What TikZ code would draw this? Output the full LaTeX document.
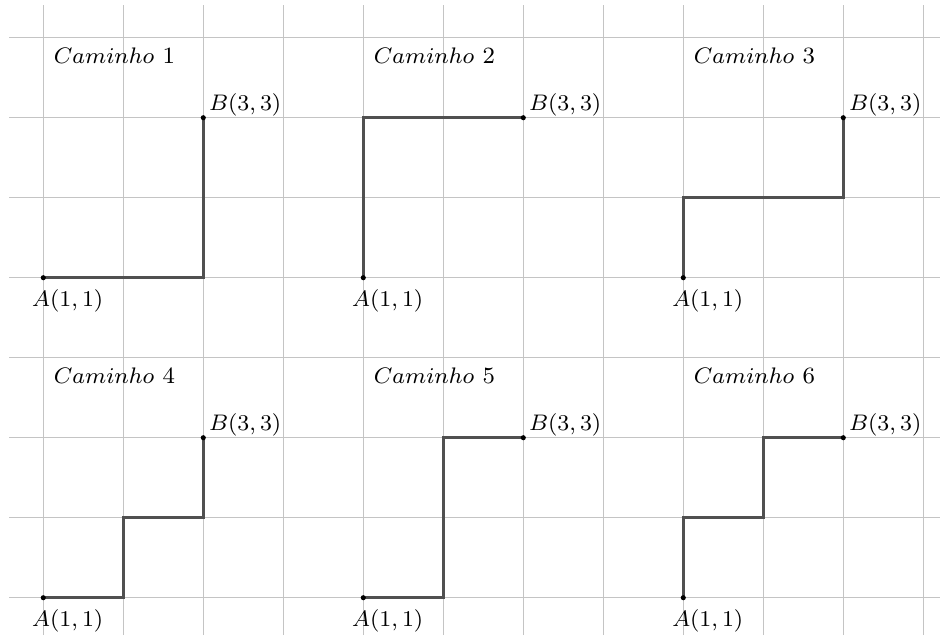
\documentclass[tikz,border=0pt]{standalone}
\usetikzlibrary{calc}
\definecolor{gridgray}{HTML}{C4C4C4}
\definecolor{pathgray}{HTML}{505050}
\newcommand{\lblfont}{\fontsize{8.3}{10}\selectfont}
\tikzset{
  gridline/.style={draw=gridgray, line width=0.45pt},
  route/.style={draw=pathgray, line width=0.95pt, line join=miter},
  pt/.style={fill=black},
  caption/.style={anchor=base west, inner sep=0pt, font=\lblfont},
  lblA/.style={anchor=base west, inner sep=0pt, font=\lblfont},
  lblB/.style={anchor=base west, inner sep=0pt, font=\lblfont},
}
\begin{document}
\begin{tikzpicture}
  \useasboundingbox (0,0) rectangle (11.75,7.9375);
  \begin{scope}[shift={(0.541,0.466)}]
    % background grid
    \foreach \i in {0,...,11} \draw[gridline] (\i,-0.466) -- (\i,7.409);
    \foreach \j in {0,...,7} \draw[gridline] (-0.4285,\j) -- (11.209,\j);

    % panel corners: start point A of each panel
    \coordinate (A1) at (0,4);
    \coordinate (A2) at (4,4);
    \coordinate (A3) at (8,4);
    \coordinate (A4) at (0,0);
    \coordinate (A5) at (4,0);
    \coordinate (A6) at (8,0);
    \foreach \k in {1,...,6} \coordinate (B\k) at ($(A\k)+(2,2)$);

    % the six monotone routes from A to B
    \draw[route] (A1) -- ++(2,0) -- (B1);
    \draw[route] (A2) -- ++(0,2) -- (B2);
    \draw[route] (A3) -- ++(0,1) -- ++(2,0) -- (B3);
    \draw[route] (A4) -- ++(1,0) -- ++(0,1) -- ++(1,0) -- (B4);
    \draw[route] (A5) -- ++(1,0) -- ++(0,2) -- (B5);
    \draw[route] (A6) -- ++(0,1) -- ++(1,0) -- ++(0,1) -- (B6);

    % end points and their labels
    \foreach \k in {1,...,6} {
      \fill[pt] (A\k) circle (0.032);
      \fill[pt] (B\k) circle (0.032);
      \node[lblA] (la\k) at ($(A\k)+(-0.145,-0.36)$) {$A(1,1)$};
      \node[lblB] (lb\k) at ($(B\k)+(0.065,0.09)$) {$B(3,3)$};
      \node[caption] (c\k) at ($(A\k)+(0.125,2.68)$) {$Caminho$ \k};
    }
  \end{scope}
\end{tikzpicture}
\end{document}
